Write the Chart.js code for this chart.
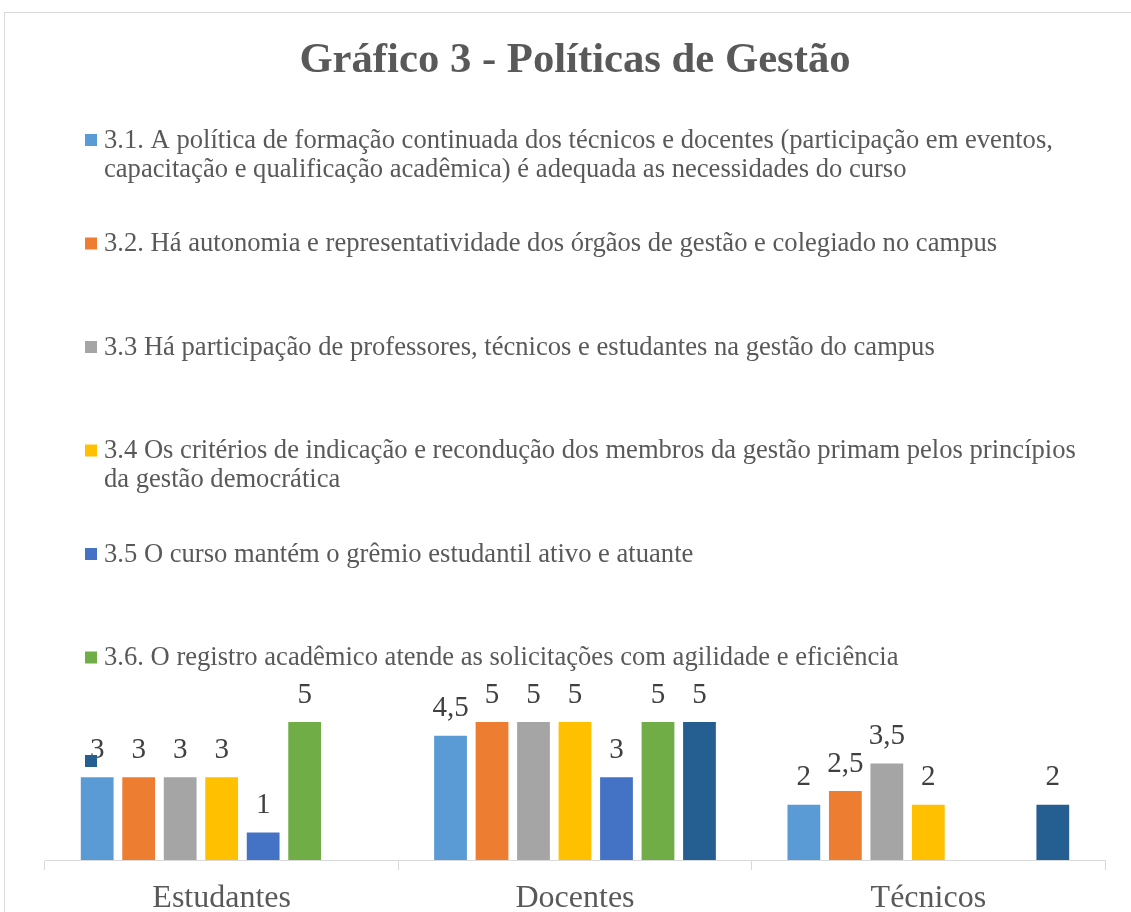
<!DOCTYPE html>
<html>
<head>
<meta charset="utf-8">
<script src="https://cdn.jsdelivr.net/npm/chart.js@4"></script>
<style>
  html, body { margin: 0; padding: 0; background: #ffffff; overflow: hidden; }
  #frame { position: absolute; left: 4px; top: 12px; width: 1150px; height: 940px; border: 1px solid #d9d9d9; background: #fff; }
  #c { display: block; }
</style>
</head>
<body>
<div id="frame"><canvas id="c" width="1150" height="940" style="width:1150px;height:940px"></canvas></div>
<script>
// ---- data ----
const categories = ["Estudantes", "Docentes", "Técnicos"];
const seriesLabels = [
  ["3.1. A política de formação continuada dos técnicos e docentes (participação em eventos,",
   "capacitação e qualificação acadêmica) é adequada as necessidades do curso"],
  ["3.2. Há autonomia e representatividade dos órgãos de gestão e colegiado no campus"],
  ["3.3 Há participação de professores, técnicos e estudantes na gestão do campus"],
  ["3.4 Os critérios de indicação e recondução dos membros da gestão primam pelos princípios",
   "da gestão democrática"],
  ["3.5 O curso mantém o grêmio estudantil ativo e atuante"],
  ["3.6. O registro acadêmico atende as solicitações com agilidade e eficiência"],
  [""]
];
const s31 = [3, 4.5, 2];
const s32 = [3, 5, 2.5];
const s33 = [3, 5, 3.5];
const s34 = [3, 5, 2];
const s35 = [1, 3, null];
const s36 = [5, 5, null];
const s37 = [null, 5, 2];
const seriesValues = [s31, s32, s33, s34, s35, s36, s37];
const seriesColors = ["#5B9BD5", "#ED7D31", "#A5A5A5", "#FFC000", "#4472C4", "#70AD47", "#255E91"];

const SERIF = "'Liberation Serif', 'Times New Roman', serif";

const valueLabels = {
  id: 'valueLabels',
  afterDatasetsDraw(chart) {
    const ctx = chart.ctx;
    ctx.save();
    ctx.font = "29px " + SERIF;
    ctx.fillStyle = "#404040";
    ctx.textAlign = "center";
    ctx.textBaseline = "middle";
    chart.data.datasets.forEach((ds, i) => {
      const meta = chart.getDatasetMeta(i);
      meta.data.forEach((bar, j) => {
        const v = ds.data[j];
        if (v === null || v === undefined) return;
        ctx.fillText(String(v).replace('.', ','), bar.x, bar.y - 27);
      });
    });
    ctx.restore();
  }
};

const sideLegend = {
  id: 'sideLegend',
  afterDraw(chart) {
    const ctx = chart.ctx;
    ctx.save();
    ctx.font = "26.6px " + SERIF;
    ctx.textAlign = "left";
    ctx.textBaseline = "middle";
    chart.data.datasets.forEach((ds, i) => {
      const y = 128 + 103.5 * i;
      ctx.fillStyle = ds.backgroundColor;
      ctx.fillRect(80, y - 7, 12, 12);
      ctx.fillStyle = "#595959";
      ds.labelLines.forEach((line, k) => {
        if (line) ctx.fillText(line, 99, y + 29 * k);
      });
    });
    ctx.restore();
  }
};

const datasets = seriesValues.map((vals, i) => ({
  label: seriesLabels[i].join(" "),
  labelLines: seriesLabels[i],
  data: vals,
  backgroundColor: seriesColors[i],
  borderWidth: 0,
  categoryPercentage: 0.822,
  barPercentage: 0.79
}));

new Chart(document.getElementById('c'), {
  type: 'bar',
  data: { labels: categories, datasets },
  options: {
    responsive: false,
    animation: false,
    layout: { padding: { left: 40, right: 50, top: 0, bottom: 33 } },
    plugins: {
      legend: { display: false },
      tooltip: { enabled: false },
      title: {
        display: true,
        text: "Gráfico 3 - Políticas de Gestão",
        color: "#595959",
        font: { family: SERIF, size: 42.7, weight: 'bold', lineHeight: 1.2 },
        padding: { top: 22, bottom: 608.2 }
      }
    },
    scales: {
      x: {
        afterFit(s) { s.height = 60; },
        grid: { display: true, drawOnChartArea: false, drawTicks: true, tickLength: 10, color: "#d9d9d9", offset: true },
        border: { display: true, color: "#d9d9d9", width: 1 },
        ticks: { color: "#595959", font: { family: SERIF, size: 32 }, padding: 9 }
      },
      y: {
        display: false,
        min: 0,
        max: 6
      }
    }
  },
  plugins: [valueLabels, sideLegend]
});
</script>
</body>
</html>
